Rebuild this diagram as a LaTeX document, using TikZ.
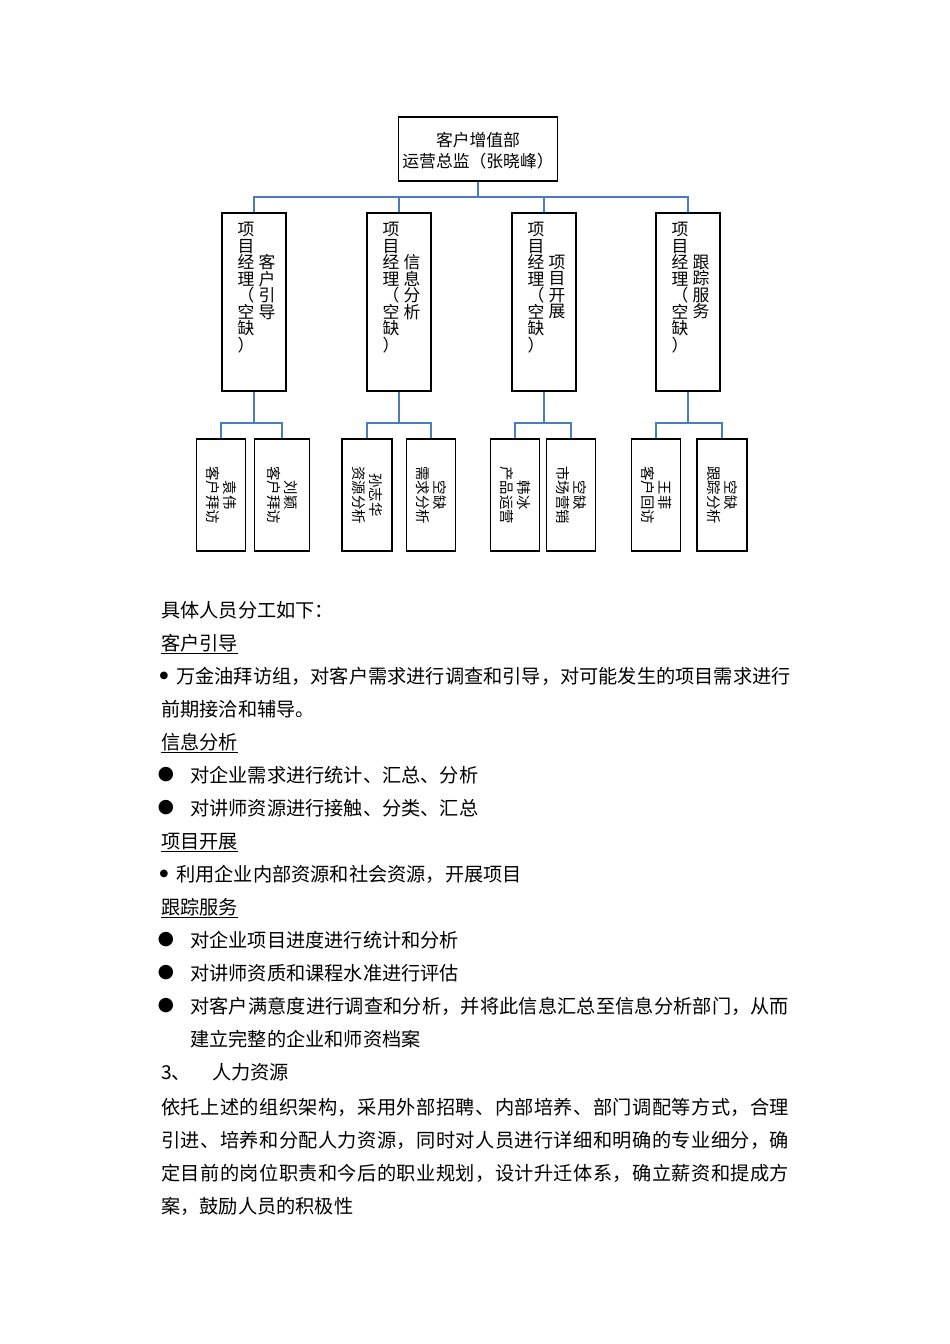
\documentclass[tikz,border=0pt]{standalone}
\usepackage{fontspec}
\setmainfont{Noto Sans CJK SC}
\newfontfamily\dejavu{DejaVu Sans}
\definecolor{linkblue}{RGB}{74,126,187}
\makeatletter
\newcommand\jus[2]{\makebox[#1][s]{\@tfor\jtok:=#2\do{\jtok\hfil}\unskip}}
\makeatother
\begin{document}
\begin{tikzpicture}[x=1pt,y=-1pt,
  box/.style={draw=black, line width=1.6pt, inner sep=0pt},
  conn/.style={draw=linkblue, line width=1.5pt},
  toptext/.style={align=center, inner sep=0pt, font=\fontsize{16.8}{21}\selectfont},
  vcol/.style={align=center, inner sep=0pt, font=\fontsize{16.8}{16.5}\selectfont},
  rtext/.style={align=center, inner sep=0pt, rotate=-90, font=\fontsize{14.4}{17}\selectfont},
  body/.style={anchor=base west, inner sep=0pt, font=\fontsize{19.2}{24}\selectfont},
  bigdot/.style={inner sep=0pt, font=\dejavu\fontsize{19}{19}\selectfont},
  smalldot/.style={inner sep=0pt, font=\dejavu\fontsize{10}{10}\selectfont}]
\useasboundingbox[fill=white] (0,0) rectangle (950,1344);

% ---------- chart ----------
\node[box, minimum width=159pt, minimum height=64pt] (top) at (478,149) {};
\node[toptext] (toplabel) at (478,150.5) {客户增值部\\运营总监（张晓峰）};

\node[box, minimum width=64pt, minimum height=178pt] (m1) at (254,302) {};
\node[box, minimum width=64pt, minimum height=178pt] (m2) at (399,302) {};
\node[box, minimum width=64pt, minimum height=178pt] (m3) at (544,302) {};
\node[box, minimum width=64pt, minimum height=178pt] (m4) at (688,302) {};

\foreach \m/\t in {m1/客\\户\\引\\导, m2/信\\息\\分\\析, m3/项\\目\\开\\展, m4/跟\\踪\\服\\务}{
  \node[vcol] (\m a) at ([xshift=-8pt,yshift=14.5pt]\m.center) {项\\目\\经\\理\\（\\空\\缺\\）};
  \node[vcol] (\m b) at ([xshift=13pt,yshift=15pt]\m.center) {\t};
}

\node[box, minimum width=49pt, minimum height=112pt] (b1) at (221,495) {};
\node[box, minimum width=55pt, minimum height=112pt] (b2) at (282,495) {};
\node[box, minimum width=50pt, minimum height=112pt] (b3) at (367,495) {};
\node[box, minimum width=49pt, minimum height=112pt] (b4) at (431,495) {};
\node[box, minimum width=49pt, minimum height=112pt] (b5) at (515,495) {};
\node[box, minimum width=49pt, minimum height=112pt] (b6) at (571,495) {};
\node[box, minimum width=49pt, minimum height=112pt] (b7) at (656,495) {};
\node[box, minimum width=50pt, minimum height=112pt] (b8) at (722,495) {};

\node[rtext] (b1t) at (b1.center) {袁伟\\客户拜访};
\node[rtext] (b2t) at (b2.center) {刘颖\\客户拜访};
\node[rtext] (b3t) at (b3.center) {孙志华\\资源分析};
\node[rtext] (b4t) at (b4.center) {空缺\\需求分析};
\node[rtext] (b5t) at (b5.center) {韩冰\\产品运营};
\node[rtext] (b6t) at (b6.center) {空缺\\市场营销};
\node[rtext] (b7t) at (b7.center) {王菲\\客户回访};
\node[rtext] (b8t) at (b8.center) {空缺\\跟踪分析};

\coordinate (bus1) at (478,197);
\coordinate (bus2) at (0,423);
\foreach \m in {m1,m2,m3,m4}
  \draw[conn] (top.south) -- (top.south |- bus1) -| (\m.north);
\foreach \m/\a/\b in {m1/b1/b2, m2/b3/b4, m3/b5/b6, m4/b7/b8}{
  \draw[conn] (\m.south) -- (\m.south |- bus2) -| (\a.north);
  \draw[conn] (\m.south) -- (\m.south |- bus2) -| (\b.north);
}

% ---------- body text ----------
\node[body] (l1) at (161,617) {具体人员分工如下：};
\node[body] (h1) at (161,650) {\underline{客户引导}};
\node[smalldot] (d1) at (164,676) {●};
\node[body] (l3) at (176,683) {\jus{613pt}{万金油拜访组，对客户需求进行调查和引导，对可能发生的项目需求进行}};
\node[body] (l4) at (161,716) {前期接洽和辅导。};
\node[body] (h2) at (161,749) {\underline{信息分析}};
\node[bigdot] (d2) at (166,775) {●};
\node[body] (l6) at (190,782) {对企业需求进行统计、汇总、分析};
\node[bigdot] (d3) at (166,808) {●};
\node[body] (l7) at (190,815) {对讲师资源进行接触、分类、汇总};
\node[body] (h3) at (161,848) {\underline{项目开展}};
\node[smalldot] (d4) at (164,874) {●};
\node[body] (l9) at (176,881) {利用企业内部资源和社会资源，开展项目};
\node[body] (h4) at (161,914) {\underline{跟踪服务}};
\node[bigdot] (d5) at (166,940) {●};
\node[body] (l11) at (190,947) {对企业项目进度进行统计和分析};
\node[bigdot] (d6) at (166,973) {●};
\node[body] (l12) at (190,980) {对讲师资质和课程水准进行评估};
\node[bigdot] (d7) at (166,1006) {●};
\node[body] (l13) at (190,1013) {\jus{599pt}{对客户满意度进行调查和分析，并将此信息汇总至信息分析部门，从而}};
\node[body] (l14) at (190,1046) {建立完整的企业和师资档案};
\node[body] (l15a) at (161,1079) {3、};
\node[body] (l15b) at (212,1079) {人力资源};
\node[body] (l16) at (161,1114) {\jus{628pt}{依托上述的组织架构，采用外部招聘、内部培养、部门调配等方式，合理}};
\node[body] (l17) at (161,1147) {\jus{628pt}{引进、培养和分配人力资源，同时对人员进行详细和明确的专业细分，确}};
\node[body] (l18) at (161,1180) {\jus{628pt}{定目前的岗位职责和今后的职业规划，设计升迁体系，确立薪资和提成方}};
\node[body] (l19) at (161,1213) {案，鼓励人员的积极性};
\end{tikzpicture}
\end{document}
